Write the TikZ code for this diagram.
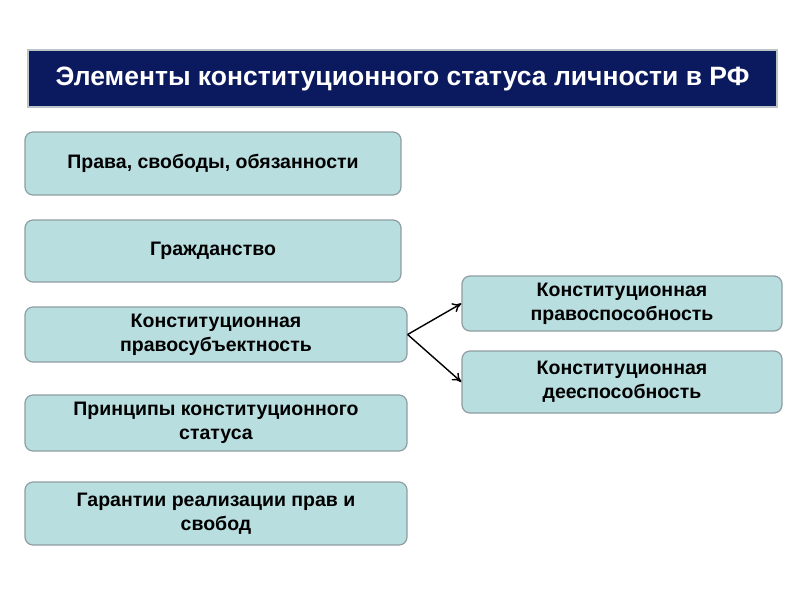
\documentclass[tikz,border=0pt]{standalone}
\usepackage{fontspec}
\setmainfont{Liberation Sans}
\usetikzlibrary{arrows.meta}
\definecolor{navy}{HTML}{0B1A5E}
\definecolor{boxfill}{HTML}{B8DEE0}
\definecolor{boxline}{HTML}{8E9EA2}
\begin{document}
\begin{tikzpicture}[x=1pt,y=-1pt,
  ebox/.style={draw=boxline,line width=1.2pt,fill=boxfill,rounded corners=8pt,
    font=\fontsize{19.5}{24}\selectfont\bfseries,align=center,inner sep=0pt},
  conn/.style={-{To[length=9pt,width=10pt]},line width=1.4pt}]
\useasboundingbox (0,0) rectangle (800,600);
\fill[white] (0,0) rectangle (800,600);
\node[draw=boxline!60,line width=1.5pt,fill=navy,minimum width=749pt,minimum height=57pt,
  inner sep=0pt,font=\fontsize{26.5}{30}\selectfont\bfseries,text=white]
  (title) at (402.5,78.5) {Элементы конституционного статуса личности в РФ};
\node[ebox,minimum width=376pt,minimum height=63pt] (b1) at (213,163.5) {Права, свободы, обязанности};
\node[ebox,minimum width=376pt,minimum height=62pt] (b2) at (213,251) {Гражданство};
\node[ebox,minimum width=382pt,minimum height=55pt] (b3) at (216,334.5) {Конституционная\\правосубъектность};
\node[ebox,minimum width=382pt,minimum height=56pt] (b4) at (216,423) {Принципы конституционного\\статуса};
\node[ebox,minimum width=382pt,minimum height=63pt] (b5) at (216,513.5) {Гарантии реализации прав и\\свобод};
\node[ebox,minimum width=320pt,minimum height=55pt] (r1) at (622,303.5) {Конституционная\\правоспособность};
\node[ebox,minimum width=320pt,minimum height=62pt] (r2) at (622,382) {Конституционная\\дееспособность};
\draw[conn] (b3.east) -- (r1.west);
\draw[conn] (b3.east) -- (r2.west);
\end{tikzpicture}
\end{document}
